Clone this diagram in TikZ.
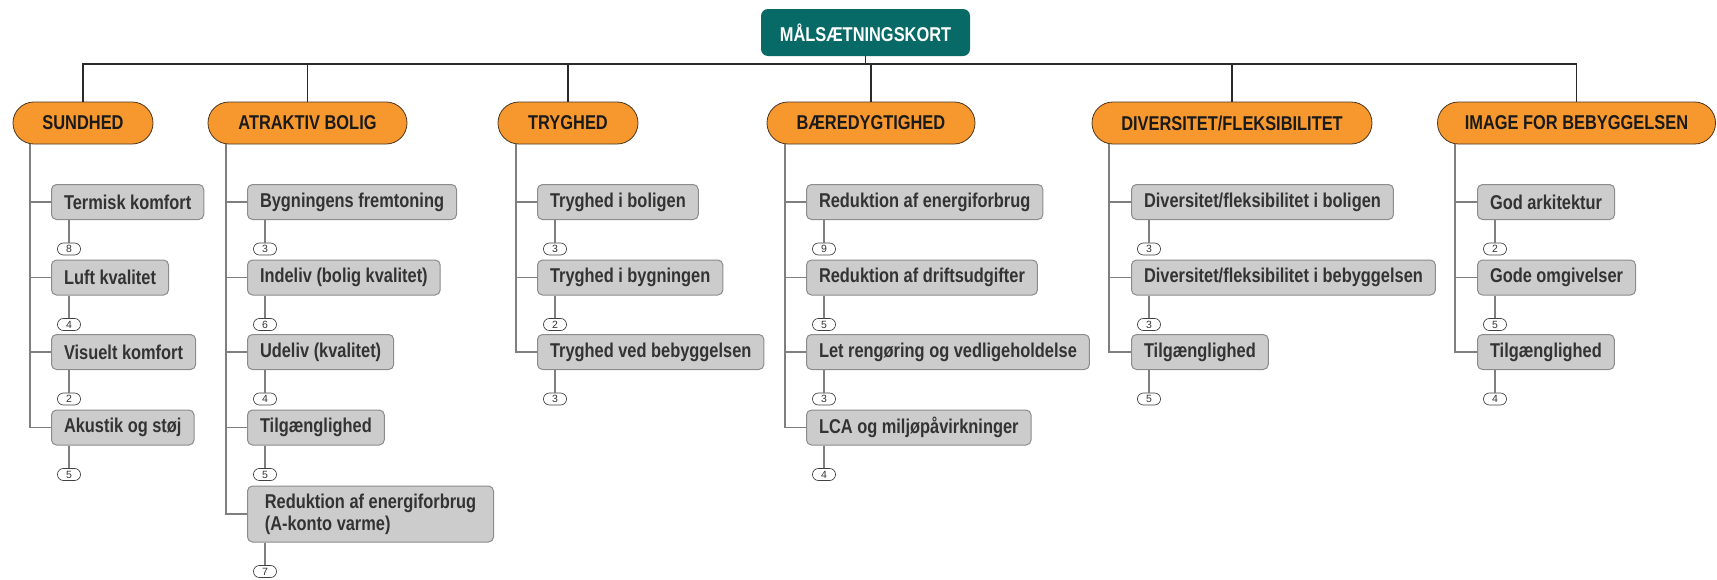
\documentclass[tikz,border=0pt]{standalone}
\usepackage{fontspec}
\setmainfont{Liberation Sans}[FakeStretch=0.82]
\newfontfamily\badgefont{Liberation Sans}
\definecolor{orangefill}{HTML}{F7982F}
\definecolor{hdrborder}{HTML}{4A3520}
\definecolor{hdrtext}{HTML}{1A1A1A}
\definecolor{rootfill}{HTML}{076A66}
\definecolor{boxfill}{HTML}{CCCCCC}
\definecolor{boxborder}{HTML}{8C8C8C}
\definecolor{childtext}{HTML}{333333}
\definecolor{treeline}{HTML}{7F7F7F}
\definecolor{busline}{HTML}{2A2A2A}
\newcommand{\mkleaf}[6]{%
  \node[leafbox] (#1) at (#3,#4) {#5};
  \node[badge] (#1b) at ([xshift=18pt,yshift=-29pt]#1.south west) {#6};
  \draw[tree] (#2) |- (#1.west);
  \draw[tree] (#1b.north |- #1.south) -- (#1b.north);
}
\begin{document}
\begin{tikzpicture}[x=1pt,y=-1pt,
  hdr/.style={draw=hdrborder, line width=0.8pt, fill=orangefill, rounded corners=20.9pt,
    minimum height=42pt, inner sep=0pt, font=\fontsize{20}{22}\selectfont\bfseries, text=hdrtext},
  rootbox/.style={fill=rootfill, rounded corners=7pt, minimum width=209pt, minimum height=47pt,
    inner sep=0pt, font=\fontsize{20}{22}\selectfont\bfseries, text=white},
  leafbox/.style={draw=boxborder, line width=1pt, fill=boxfill, rounded corners=5pt, minimum height=35pt,
    inner xsep=12.5pt, inner ysep=0pt, anchor=west, align=left,
    font=\fontsize{20}{22}\selectfont\bfseries, text=childtext},
  badge/.style={draw=black!75, line width=0.7pt, fill=white, rounded corners=5.9pt, minimum width=23pt,
    minimum height=12pt, inner sep=0pt, font=\badgefont\fontsize{10.5}{10.5}\selectfont, text=black!80},
  tree/.style={draw=treeline, line width=1.3pt},
  bus/.style={draw=busline, line width=1.4pt}]
\useasboundingbox (0,0) rectangle (1717,579);

% root and headers
\node[rootbox] (root) at (865.5,32.5) {MÅLSÆTNINGSKORT};
\node[hdr, minimum width=140pt] (h1) at (83,123) {SUNDHED};
\node[hdr, minimum width=199pt] (h2) at (307.5,123) {ATRAKTIV BOLIG};
\node[hdr, minimum width=140pt] (h3) at (568,123) {TRYGHED};
\node[hdr, minimum width=208pt] (h4) at (871,123) {BÆREDYGTIGHED};
\node[hdr, minimum width=280pt] (h5) at (1232,123) {DIVERSITET/FLEKSIBILITET};
\node[hdr, minimum width=278pt] (h6) at (1576.5,123) {IMAGE FOR BEBYGGELSEN};

% bus
\coordinate (busy) at (0,64);
\draw[bus] (h1.north) -- (h1.north |- busy) -- (h6.north |- busy) -- (h6.north);
\draw[bus] (root.south) -- (root.south |- busy);
\draw[bus] (h2.north) -- (h2.north |- busy);
\draw[bus] (h3.north) -- (h3.north |- busy);
\draw[bus] (h4.north) -- (h4.north |- busy);
\draw[bus] (h5.north) -- (h5.north |- busy);

% tree trunks
\coordinate (v1) at (30,144);
\coordinate (v2) at (226,144);
\coordinate (v3) at (516,144);
\coordinate (v4) at (785,144);
\coordinate (v5) at (1109,144);
\coordinate (v6) at (1455,144);

% SUNDHED
\mkleaf{a1}{v1}{51}{202}{Termisk komfort}{8}
\mkleaf{a2}{v1}{51}{277.5}{Luft kvalitet}{4}
\mkleaf{a3}{v1}{51}{352}{Visuelt komfort}{2}
\mkleaf{a4}{v1}{51}{427.5}{Akustik og støj}{5}

% ATRAKTIV BOLIG
\mkleaf{b1}{v2}{247}{202}{Bygningens fremtoning}{3}
\mkleaf{b2}{v2}{247}{277.5}{Indeliv (bolig kvalitet)}{6}
\mkleaf{b3}{v2}{247}{352}{Udeliv (kvalitet)}{4}
\mkleaf{b4}{v2}{247}{427.5}{Tilgænglighed}{5}
\node[leafbox, minimum height=56pt, minimum width=246pt] (b5) at (247,514) {Reduktion af energiforbrug\\(A-konto varme)};
\node[badge] (b5b) at ([xshift=18pt,yshift=-29pt]b5.south west) {7};
\draw[tree] (v2) |- (b5.west);
\draw[tree] (b5b.north |- b5.south) -- (b5b.north);

% TRYGHED
\mkleaf{c1}{v3}{537}{202}{Tryghed i boligen}{3}
\mkleaf{c2}{v3}{537}{277.5}{Tryghed i bygningen}{2}
\mkleaf{c3}{v3}{537}{352}{Tryghed ved bebyggelsen}{3}

% BÆREDYGTIGHED
\mkleaf{d1}{v4}{806}{202}{Reduktion af energiforbrug}{9}
\mkleaf{d2}{v4}{806}{277.5}{Reduktion af driftsudgifter}{5}
\mkleaf{d3}{v4}{806}{352}{Let rengøring og vedligeholdelse}{3}
\mkleaf{d4}{v4}{806}{427.5}{LCA og miljøpåvirkninger}{4}

% DIVERSITET
\mkleaf{e1}{v5}{1131}{202}{Diversitet/fleksibilitet i boligen}{3}
\mkleaf{e2}{v5}{1131}{277.5}{Diversitet/fleksibilitet i bebyggelsen}{3}
\mkleaf{e3}{v5}{1131}{352}{Tilgænglighed}{5}

% IMAGE
\mkleaf{f1}{v6}{1477}{202}{God arkitektur}{2}
\mkleaf{f2}{v6}{1477}{277.5}{Gode omgivelser}{5}
\mkleaf{f3}{v6}{1477}{352}{Tilgænglighed}{4}
\end{tikzpicture}
\end{document}
